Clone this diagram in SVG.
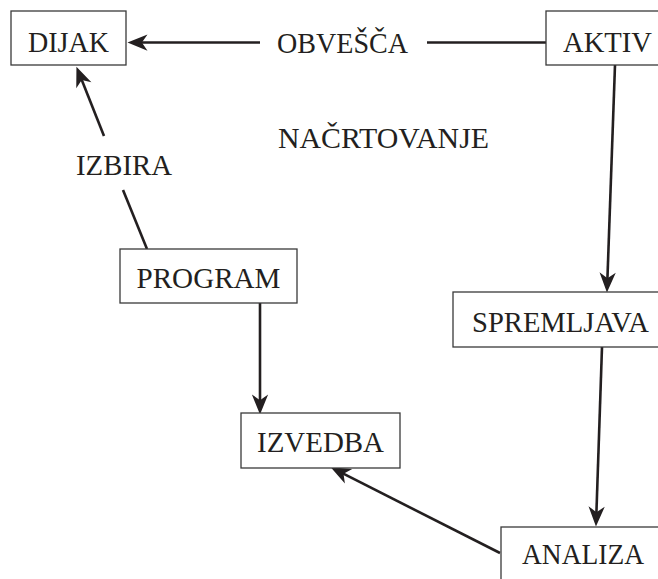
<svg xmlns="http://www.w3.org/2000/svg" width="658" height="579" viewBox="0 0 658 579">
<style>
  .box { fill: #ffffff; stroke: #3a3a3a; stroke-width: 1.3; }
  .lbl { font-family: "Liberation Serif", "DejaVu Serif", serif; font-size: 30px; fill: #231f20; }
  .mid { text-anchor: middle; }
  .con { stroke: #231f20; stroke-width: 2.6; fill: none; }
</style>
<defs>
  <marker id="arr" markerUnits="userSpaceOnUse" markerWidth="30" markerHeight="30" viewBox="-15 -8 24 16" refX="0" refY="0" orient="auto">
    <path d="M6,0 L-10,-6.5 L-5.5,0 L-10,6.5 Z" fill="#231f20"/>
  </marker>
</defs>
<rect width="658" height="579" fill="#ffffff"/>
<g id="connectors">
  <line class="con" x1="260" y1="42.5" x2="135" y2="42.5" marker-end="url(#arr)"/>
  <line class="con" x1="427" y1="42.5" x2="546" y2="42.5"/>
  <line class="con" x1="615" y1="65" x2="607.2" y2="285" marker-end="url(#arr)"/>
  <line class="con" x1="602" y1="347" x2="596.2" y2="519" marker-end="url(#arr)"/>
  <line class="con" x1="500" y1="553" x2="337.4" y2="470.7" marker-end="url(#arr)"/>
  <line class="con" x1="260" y1="303" x2="260" y2="407" marker-end="url(#arr)"/>
  <line class="con" x1="104" y1="136" x2="79.2" y2="73.6" marker-end="url(#arr)"/>
  <line class="con" x1="123" y1="190" x2="147" y2="249"/>
  <text class="lbl mid" x="342.5" y="53" textLength="131" lengthAdjust="spacingAndGlyphs">OBVEŠČA</text>
  <text class="lbl mid" x="124" y="175" textLength="96" lengthAdjust="spacingAndGlyphs">IZBIRA</text>
</g>
<g id="nacrtovanje">
  <text class="lbl mid" x="383.5" y="148" textLength="211" lengthAdjust="spacingAndGlyphs">NAČRTOVANJE</text>
</g>
<g id="dijak">
  <rect class="box" x="11" y="11" width="115" height="54"/>
  <text class="lbl mid" x="68.5" y="51.5" textLength="81" lengthAdjust="spacingAndGlyphs">DIJAK</text>
</g>
<g id="aktiv">
  <rect class="box" x="546" y="11" width="150" height="54"/>
  <text class="lbl" x="563" y="52" textLength="89" lengthAdjust="spacingAndGlyphs">AKTIV</text>
</g>
<g id="program">
  <rect class="box" x="120" y="249" width="177" height="54"/>
  <text class="lbl mid" x="208.5" y="288" textLength="144" lengthAdjust="spacingAndGlyphs">PROGRAM</text>
</g>
<g id="spremljava">
  <rect class="box" x="453" y="292" width="250" height="55"/>
  <text class="lbl" x="472" y="332" textLength="177" lengthAdjust="spacingAndGlyphs">SPREMLJAVA</text>
</g>
<g id="izvedba">
  <rect class="box" x="241" y="413" width="159" height="55"/>
  <text class="lbl mid" x="320.5" y="452" textLength="127" lengthAdjust="spacingAndGlyphs">IZVEDBA</text>
</g>
<g id="analiza">
  <rect class="box" x="501" y="527" width="200" height="100"/>
  <text class="lbl" x="522" y="564" textLength="122" lengthAdjust="spacingAndGlyphs">ANALIZA</text>
</g>
</svg>
